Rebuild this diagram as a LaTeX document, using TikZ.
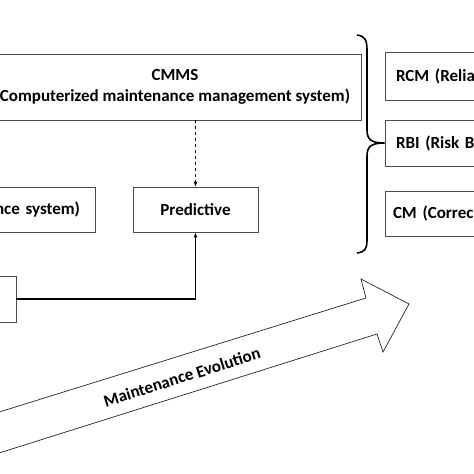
\documentclass[tikz,border=0pt]{standalone}
\usepackage{fontspec}
\setmainfont{Carlito}
\usetikzlibrary{arrows.meta}

\begin{document}
\begin{tikzpicture}[x=1pt, y=-1pt,
        txt/.style={font=\fontsize{17}{21}\selectfont\bfseries},
        box/.style={txt, draw=black!70, line width=0.8pt, inner sep=0pt},
        kind/.style={box, minimum width=135pt, text width=113pt, align=left, inner xsep=11pt}]
        \useasboundingbox (0,0) rectangle (474,474);
        \clip (0,0) rectangle (474,474);

        % left part of the tree
        \node[box, minimum width=372pt, minimum height=66pt, align=center] (cmms) at (175,87) {CMMS\\Computerized maintenance management system)};
        \node[box, minimum width=135pt, minimum height=45pt, text width=105pt, align=right, inner xsep=15pt] (system) at (27.5,209.5) {nce system)};
        \node[box, minimum width=125pt, minimum height=45pt] (pred) at (195.5,209.5) {Predictive};
        \node[box, minimum width=46pt, minimum height=46pt] (src) at (-7,299) {};

        \draw[line width=0.8pt, dashed, -{Latex[length=5pt, width=4pt]}] (pred.north |- cmms.south) -- (pred.north);
        \draw[line width=1.6pt, -{Latex[length=5pt, width=4pt]}] (src.east) -| (pred.south);

        % right column
        \node[kind, minimum height=48pt] (rcm) at (452.5,76) {RCM (Relia};
        \node[kind, minimum height=46pt] (rbi) at (452.5,143) {RBI (Risk Ba};
        \node[kind, minimum height=45pt, text width=119pt, inner xsep=8pt] (cm) at (452.5,213.5) {CM (Correc};

        \draw[line width=1.6pt] (357,35) .. controls (365,36) and (367,40) .. (367,50) -- (367,130)
            .. controls (367,140) and (372,143) .. (rbi.west) .. controls (372,143) and (367,146) .. (367,156)
            -- (367,240) .. controls (367,249) and (365,252) .. (357,253);

        % evolution arrow
        \draw[line width=0.7pt, black!85, line join=miter] (-20,418) -- (366,298) -- (361,279) -- (409,304)
            -- (383,352) -- (377,334) -- (-20,459);
        \node[txt, rotate=17.4] (evo) at (182,377) {Maintenance Evolution};

\end{tikzpicture}
\end{document}
